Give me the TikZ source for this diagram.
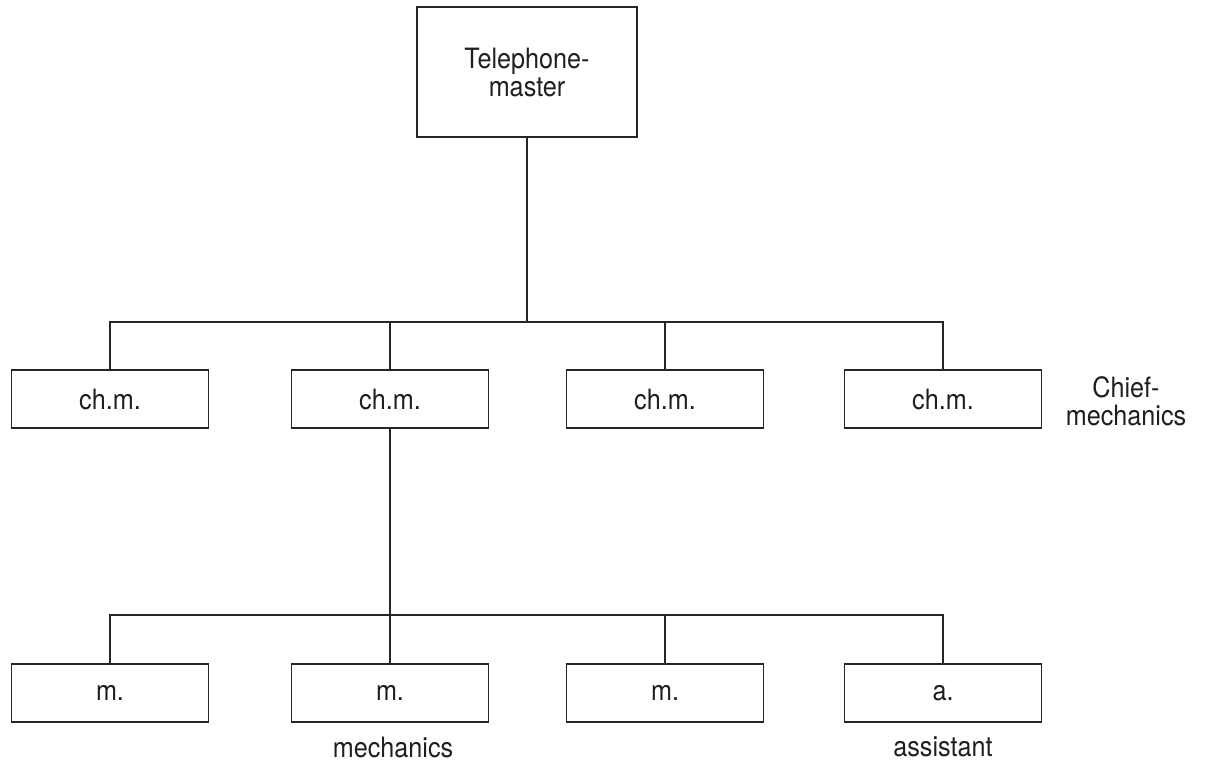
\documentclass[tikz,border=0pt]{standalone}
\usepackage{fontspec}
\setmainfont{TeX Gyre Heros}[FakeStretch=0.9]
\begin{document}
\begin{tikzpicture}[x=1pt,y=-1pt,
  ink/.style={draw=black!85},
  box/.style={ink, line width=1.9pt, rectangle, inner sep=0pt,
    font=\fontsize{28}{28}\selectfont, text=black!88},
  headbox/.style={box, minimum width=220pt, minimum height=130pt, align=center},
  unitbox/.style={box, minimum width=197pt, minimum height=58pt},
  wire/.style={ink, line width=1.5pt},
  caption/.style={font=\fontsize{28}{28}\selectfont, text=black!88, align=center, inner sep=0pt}]
  \useasboundingbox (0,0) rectangle (1212,764);

  % head of the office
  \node[headbox] (top) at (527,72) {Telephone-\\master};

  % chief mechanics
  \node[unitbox] (c1) at (110,399) {ch.m.};
  \node[unitbox] (c2) at (390,399) {ch.m.};
  \node[unitbox] (c3) at (665,399) {ch.m.};
  \node[unitbox] (c4) at (943,399) {ch.m.};
  \node[caption] (clabel) at (1126,401) {Chief-\\mechanics};

  % staff under the second chief mechanic
  \node[unitbox] (m1) at (110,693) {m.};
  \node[unitbox] (m2) at (390,693) {m.};
  \node[unitbox] (m3) at (665,693) {m.};
  \node[unitbox] (a1) at (943,693) {a.};
  \node[caption] (mlabel) at (393,747) {mechanics};
  \node[caption] (alabel) at (943,747) {assistant};

  % connectors
  \coordinate (bus1) at (527,322);
  \coordinate (bus2) at (390,615);
  \draw[wire] (top.south) -- (bus1);
  \draw[wire] (c1.north) |- (bus1) -| (c4.north);
  \draw[wire] (c2.north) -- (c2.north |- bus1);
  \draw[wire] (c3.north) -- (c3.north |- bus1);

  \draw[wire] (c2.south) -- (bus2);
  \draw[wire] (m1.north) |- (bus2) -| (a1.north);
  \draw[wire] (m2.north) -- (bus2);
  \draw[wire] (m3.north) -- (m3.north |- bus2);
\end{tikzpicture}
\end{document}
